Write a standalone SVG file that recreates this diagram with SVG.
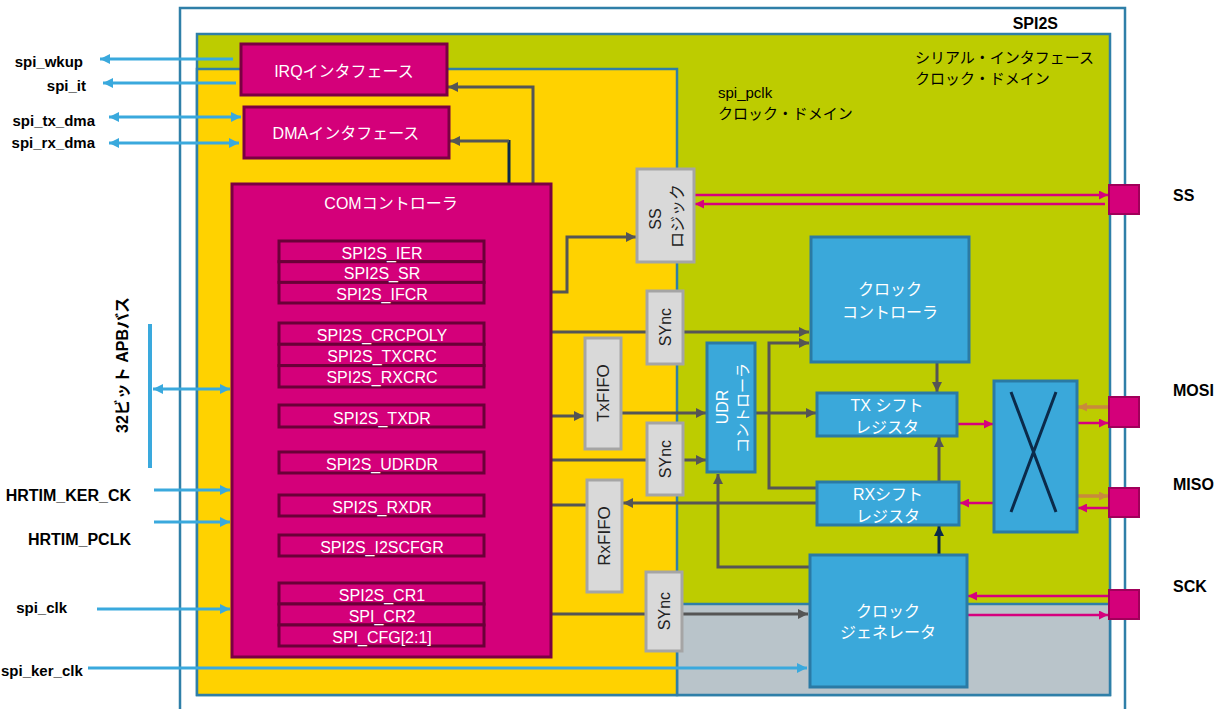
<svg xmlns="http://www.w3.org/2000/svg" width="1227" height="709" viewBox="0 0 1227 709">
<style>
.mag{fill:#d4007a;stroke:#7a0042;stroke-width:3}
.reg{fill:#d4007a;stroke:#6a0038;stroke-width:3}
.blu{fill:#3aa8da;stroke:#2a7aa5;stroke-width:3}
.gry{fill:#d9d9d9;stroke:#a5a5a5;stroke-width:3}
.pad{fill:#d4007a;stroke:#a0005a;stroke-width:2}
.wt{fill:#ffffff;font-family:"Liberation Sans","Noto Sans CJK JP",sans-serif;font-size:16px;text-anchor:middle;dominant-baseline:central}
.dk{fill:#222222;font-family:"Liberation Sans","Noto Sans CJK JP",sans-serif;font-size:16px;text-anchor:middle;dominant-baseline:central}
.lbl{fill:#000000;font-family:"Liberation Sans","Noto Sans CJK JP",sans-serif;font-size:15px;font-weight:bold;text-anchor:end;dominant-baseline:central}
.jp{fill:#000000;font-family:"Liberation Sans","Noto Sans CJK JP",sans-serif;font-size:15px;dominant-baseline:central}
.cg{fill:none;stroke:#555555;stroke-width:3}
.cb{fill:none;stroke:#3aa9dd;stroke-width:3}
.cm{fill:none;stroke:#d6007e;stroke-width:2.5}
.co{fill:none;stroke:#c98a3c;stroke-width:3.5}
.cn{fill:none;stroke:#0b2a4a;stroke-width:3}
</style>
<defs>
<marker id="ag" viewBox="0 0 10 10" refX="10" refY="5" markerWidth="11" markerHeight="10" markerUnits="userSpaceOnUse" orient="auto-start-reverse"><path d="M0,0 L10,5 L0,10 z" fill="#555555"/></marker>
<marker id="ab" viewBox="0 0 10 10" refX="10" refY="5" markerWidth="11" markerHeight="10" markerUnits="userSpaceOnUse" orient="auto-start-reverse"><path d="M0,0 L10,5 L0,10 z" fill="#3aa9dd"/></marker>
<marker id="am" viewBox="0 0 10 10" refX="10" refY="5" markerWidth="10" markerHeight="9" markerUnits="userSpaceOnUse" orient="auto-start-reverse"><path d="M0,0 L10,5 L0,10 z" fill="#d6007e"/></marker>
<marker id="ao" viewBox="0 0 10 10" refX="10" refY="5" markerWidth="10" markerHeight="9" markerUnits="userSpaceOnUse" orient="auto-start-reverse"><path d="M0,0 L10,5 L0,10 z" fill="#c98a3c"/></marker>
<marker id="an" viewBox="0 0 10 10" refX="10" refY="5" markerWidth="11" markerHeight="10" markerUnits="userSpaceOnUse" orient="auto-start-reverse"><path d="M0,0 L10,5 L0,10 z" fill="#0b2a4a"/></marker>
</defs>
<rect width="1227" height="709" fill="#ffffff"/>
<g id="containers">
<rect x="180" y="8" width="945" height="720" fill="#ffffff" stroke="#2f7fa8" stroke-width="2.5"/>
<rect x="197" y="34" width="913" height="661" fill="#bdcc00" stroke="#2f7fa8" stroke-width="2.5"/>
<rect x="677" y="604" width="433" height="91" fill="#b9c4ca" stroke="#2f7fa8" stroke-width="2.5"/>
<rect x="197" y="69" width="480" height="626" fill="#ffd200" stroke="#2f7fa8" stroke-width="2.5"/>
<text x="1058" y="23" class="lbl" style="font-size:16px">SPI2S</text>
<text x="915" y="57" class="jp">シリアル・インタフェース</text>
<text x="915" y="78" class="jp">クロック・ドメイン</text>
<text x="718" y="92" class="jp">spi_pclk</text>
<text x="718" y="113" class="jp">クロック・ドメイン</text>
</g>
<g id="labels">
<text x="83" y="61" class="lbl">spi_wkup</text>
<text x="86" y="85" class="lbl">spi_it</text>
<text x="95" y="120" class="lbl">spi_tx_dma</text>
<text x="95" y="142" class="lbl">spi_rx_dma</text>
<text x="122" y="365" class="lbl" style="font-size:16px;text-anchor:middle" transform="rotate(-90 122 365)">32ビット APBバス</text>
<text x="131" y="495" class="lbl" style="font-size:16px">HRTIM_KER_CK</text>
<text x="131" y="539" class="lbl" style="font-size:16px">HRTIM_PCLK</text>
<text x="67" y="607" class="lbl">spi_clk</text>
<text x="1" y="670" class="lbl" style="text-anchor:start">spi_ker_clk</text>
<text x="1173" y="195" class="lbl" style="font-size:16px;text-anchor:start">SS</text>
<text x="1173" y="390" class="lbl" style="font-size:16px;text-anchor:start">MOSI</text>
<text x="1173" y="484" class="lbl" style="font-size:16px;text-anchor:start">MISO</text>
<text x="1173" y="586" class="lbl" style="font-size:16px;text-anchor:start">SCK</text>
</g>
<g id="connectors">
<path class="cb" d="M233,59 H100" marker-end="url(#ab)"/>
<path class="cb" d="M236,83 H103" marker-end="url(#ab)"/>
<path class="cb" d="M109,117 H241" marker-start="url(#ab)" marker-end="url(#ab)"/>
<path class="cb" d="M109,143 H239" marker-start="url(#ab)" marker-end="url(#ab)"/>
<path class="cb" d="M150,324 V468" style="stroke-width:4"/>
<path class="cb" d="M153,389 H230" marker-start="url(#ab)" marker-end="url(#ab)"/>
<path class="cb" d="M154,490 H230" marker-end="url(#ab)"/>
<path class="cb" d="M154,522 H230" marker-end="url(#ab)"/>
<path class="cb" d="M97,609 H230" marker-end="url(#ab)"/>
<path class="cb" d="M88,668 H807" marker-end="url(#ab)"/>
<path class="cg" d="M485,269 H533 V87 H448" marker-end="url(#ag)"/>
<path class="cg" d="M485,252 H510"/>
<path class="cn" d="M509,253 V140"/>
<path class="cg" d="M509,141 H450" marker-end="url(#ag)"/>
<path class="cg" d="M488,292 H567 V237 H636" marker-start="url(#ag)" marker-end="url(#ag)"/>
<path class="cg" d="M485,332 H809" marker-end="url(#ag)"/>
<path class="cg" d="M817,488 H769 V343 H809" marker-end="url(#ag)"/>
<path class="cg" d="M485,416 H584" marker-end="url(#ag)"/>
<path class="cg" d="M621,413 H706" marker-end="url(#ag)"/>
<path class="cg" d="M755,413 H816" marker-end="url(#ag)"/>
<path class="cg" d="M937,362 V392" marker-end="url(#ag)"/>
<path class="cg" d="M485,460 H706" marker-end="url(#ag)"/>
<path class="cg" d="M817,503 H623" marker-end="url(#ag)"/>
<path class="cg" d="M587,505 H487" marker-end="url(#ag)"/>
<path class="cg" d="M809,567 H718 V474" marker-end="url(#ag)"/>
<path class="cg" d="M488,614 H808" marker-start="url(#ag)" marker-end="url(#ag)"/>
<path class="cn" d="M939,555 V526" marker-end="url(#an)"/>
<path class="cg" d="M939,482 V437" marker-end="url(#ag)"/>
<path class="cm" d="M957,424 H993" marker-end="url(#am)"/>
<path class="cm" d="M994,503 H960" marker-end="url(#am)"/>
<path class="co" d="M1109,407 H1078" marker-end="url(#ao)"/>
<path class="cm" d="M1077,423 H1108" marker-end="url(#am)"/>
<path class="co" d="M1077,496 H1108" marker-end="url(#ao)"/>
<path class="cm" d="M1109,508 H1078" marker-end="url(#am)"/>
<path class="cm" d="M694,195 H1108" marker-end="url(#am)"/>
<path class="cm" d="M1105,204 H695" marker-end="url(#am)"/>
<path class="cm" d="M1109,596 H968" marker-end="url(#am)"/>
<path class="cm" d="M967,615 H1108" marker-end="url(#am)"/>
</g>
<g id="irq">
<rect x="241" y="44" width="206" height="51" class="mag"/>
<text x="344" y="71" class="wt">IRQインタフェース</text>
</g>
<g id="dma">
<rect x="244" y="107" width="205" height="51" class="mag"/>
<text x="346" y="133" class="wt">DMAインタフェース</text>
</g>
<g id="com">
<rect x="232" y="184" width="319" height="473" class="mag"/>
<text x="391" y="203" class="wt">COMコントローラ</text>
<rect x="279" y="241" width="205" height="20.7" class="reg"/>
<rect x="279" y="261.7" width="205" height="20.7" class="reg"/>
<rect x="279" y="282.4" width="205" height="20.6" class="reg"/>
<text x="382" y="253" class="wt">SPI2S_IER</text>
<text x="382" y="273.5" class="wt">SPI2S_SR</text>
<text x="382" y="294" class="wt">SPI2S_IFCR</text>
<rect x="279" y="323" width="205" height="21.3" class="reg"/>
<rect x="279" y="344.3" width="205" height="21.3" class="reg"/>
<rect x="279" y="365.6" width="205" height="21.4" class="reg"/>
<text x="382" y="335" class="wt">SPI2S_CRCPOLY</text>
<text x="382" y="356.5" class="wt">SPI2S_TXCRC</text>
<text x="382" y="377.5" class="wt">SPI2S_RXCRC</text>
<rect x="279" y="405" width="205" height="22" class="reg"/>
<text x="382" y="418" class="wt">SPI2S_TXDR</text>
<rect x="279" y="452" width="205" height="21" class="reg"/>
<text x="382" y="464" class="wt">SPI2S_UDRDR</text>
<rect x="279" y="495" width="205" height="21" class="reg"/>
<text x="382" y="507" class="wt">SPI2S_RXDR</text>
<rect x="279" y="535" width="205" height="21" class="reg"/>
<text x="382" y="547" class="wt">SPI2S_I2SCFGR</text>
<rect x="279" y="583" width="205" height="21" class="reg"/>
<rect x="279" y="604" width="205" height="21" class="reg"/>
<rect x="279" y="625" width="205" height="21" class="reg"/>
<text x="382" y="595" class="wt">SPI2S_CR1</text>
<text x="382" y="616" class="wt">SPI_CR2</text>
<text x="382" y="637" class="wt">SPI_CFG[2:1]</text>
</g>
<g id="ss-logic">
<rect x="637" y="169" width="57" height="93" class="gry"/>
<text x="655" y="219" class="dk" transform="rotate(-90 655 219)">SS</text>
<text x="677" y="216" class="dk" transform="rotate(-90 677 216)">ロジック</text>
</g>
<g id="sync1">
<rect x="647" y="291" width="36" height="73" class="gry"/>
<text x="665" y="327" class="dk" transform="rotate(-90 665 327)">SYnc</text>
</g>
<g id="txfifo">
<rect x="585" y="338" width="36" height="111" class="gry"/>
<text x="603" y="393" class="dk" style="font-size:17px" transform="rotate(-90 603 393)">TxFIFO</text>
</g>
<g id="sync2">
<rect x="647" y="423" width="36" height="72" class="gry"/>
<text x="665" y="459" class="dk" transform="rotate(-90 665 459)">SYnc</text>
</g>
<g id="rxfifo">
<rect x="587" y="480" width="35" height="112" class="gry"/>
<text x="604" y="536" class="dk" style="font-size:17px" transform="rotate(-90 604 536)">RxFIFO</text>
</g>
<g id="sync3">
<rect x="646" y="572" width="36" height="79" class="gry"/>
<text x="664" y="611" class="dk" transform="rotate(-90 664 611)">SYnc</text>
</g>
<g id="udr">
<rect x="707" y="343" width="48" height="129" class="blu"/>
<text x="722" y="407" class="wt" transform="rotate(-90 722 407)">UDR</text>
<text x="742" y="408" class="wt" style="font-size:15px" transform="rotate(-90 742 408)">コントローラ</text>
</g>
<g id="clock-controller">
<rect x="811" y="237" width="158" height="125" class="blu"/>
<text x="890" y="289" class="wt">クロック</text>
<text x="890" y="312" class="wt">コントローラ</text>
</g>
<g id="tx-shift">
<rect x="817" y="393" width="140" height="43" class="blu"/>
<text x="887" y="405" class="wt">TX シフト</text>
<text x="887" y="427" class="wt">レジスタ</text>
</g>
<g id="rx-shift">
<rect x="817" y="482" width="142" height="43" class="blu"/>
<text x="888" y="494" class="wt">RXシフト</text>
<text x="888" y="516" class="wt">レジスタ</text>
</g>
<g id="clock-generator">
<rect x="810" y="555" width="157" height="132" class="blu"/>
<text x="888" y="611" class="wt">クロック</text>
<text x="888" y="632" class="wt">ジェネレータ</text>
</g>
<g id="mux">
<rect x="994" y="381" width="83" height="151" class="blu"/>
<path d="M1011,392 L1056,512 M1056,392 L1011,512" fill="none" stroke="#0b2a4a" stroke-width="3"/>
</g>
<g id="pad-ss"><rect x="1109" y="185" width="30" height="29" class="pad"/></g>
<g id="pad-mosi"><rect x="1109" y="397" width="30" height="30" class="pad"/></g>
<g id="pad-miso"><rect x="1109" y="488" width="30" height="29" class="pad"/></g>
<g id="pad-sck"><rect x="1109" y="590" width="30" height="29" class="pad"/></g>
</svg>
